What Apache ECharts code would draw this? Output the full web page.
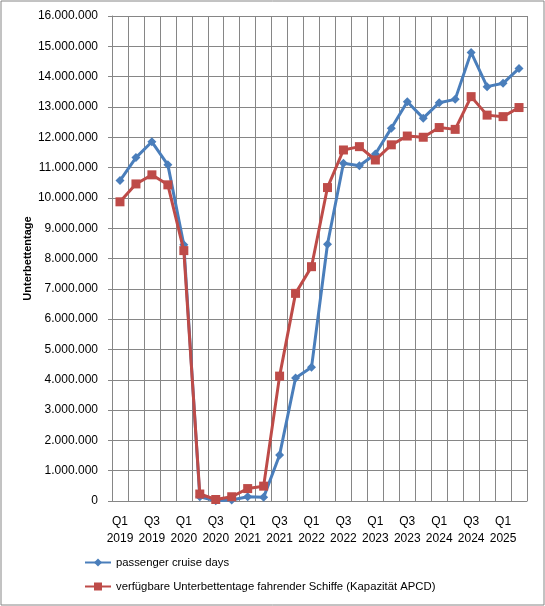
<!DOCTYPE html>
<html>
<head>
<meta charset="utf-8">
<script src="https://cdn.jsdelivr.net/npm/echarts@6/dist/echarts.min.js"></script>
<style>
    html, body { margin: 0; padding: 0; background: #fff; }
    #chart { width: 545px; height: 606px; }
</style>
</head>
<body>
<div id="chart"></div>
<script>
const quarters = [
    'Q1\n2019', 'Q2\n2019', 'Q3\n2019', 'Q4\n2019',
    'Q1\n2020', 'Q2\n2020', 'Q3\n2020', 'Q4\n2020',
    'Q1\n2021', 'Q2\n2021', 'Q3\n2021', 'Q4\n2021',
    'Q1\n2022', 'Q2\n2022', 'Q3\n2022', 'Q4\n2022',
    'Q1\n2023', 'Q2\n2023', 'Q3\n2023', 'Q4\n2023',
    'Q1\n2024', 'Q2\n2024', 'Q3\n2024', 'Q4\n2024',
    'Q1\n2025', 'Q2\n2025'
];

const passengerCruiseDays = [
    10570000, 11330000, 11850000, 11090000,
    8450000, 140000, 10000, 30000,
    140000, 120000, 1520000, 4060000,
    4410000, 8470000, 11140000, 11060000,
    11450000, 12300000, 13170000, 12630000,
    13140000, 13250000, 14800000, 13670000,
    13780000, 14270000
];

const apcdCapacity = [
    9870000, 10460000, 10760000, 10430000,
    8260000, 230000, 50000, 140000,
    410000, 490000, 4120000, 6850000,
    7730000, 10340000, 11580000, 11690000,
    11250000, 11750000, 12040000, 12000000,
    12320000, 12260000, 13340000, 12730000,
    12680000, 12980000
];

const seriesNames = [
    'passenger cruise days',
    'verfügbare Unterbettentage fahrender Schiffe (Kapazität APCD)'
];

const GRID_COLOR = '#868686';
const FONT = 'Liberation Sans';

function formatThousands(value) {
    return String(value).replace(/\B(?=(\d{3})+(?!\d))/g, '.');
}

const chart = echarts.init(document.getElementById('chart'));
chart.setOption({
    animation: false,
    textStyle: { fontFamily: FONT },
    graphic: [{
        type: 'rect',
        shape: { x: 1, y: 1, width: 543, height: 604 },
        style: { fill: 'none', stroke: GRID_COLOR, lineWidth: 1 },
        silent: true
    }],
    grid: {
        left: 112,
        right: 18,
        top: 16,
        bottom: 105,
        containLabel: false
    },
    legend: {
        orient: 'vertical',
        left: 84,
        top: 557,
        padding: 0,
        itemWidth: 26,
        itemHeight: 10,
        itemGap: 13,
        textStyle: { fontFamily: FONT, fontSize: 11.3, color: '#000' },
        data: seriesNames
    },
    xAxis: {
        type: 'category',
        data: quarters,
        boundaryGap: true,
        axisLine: { lineStyle: { color: GRID_COLOR, width: 1 } },
        axisTick: { show: false },
        splitLine: { show: true, interval: 0, lineStyle: { color: GRID_COLOR, width: 1 } },
        axisLabel: {
            interval: 1,
            color: '#000',
            fontSize: 12,
            lineHeight: 17,
            margin: 12
        }
    },
    yAxis: {
        type: 'value',
        min: 0,
        max: 16000000,
        interval: 1000000,
        name: 'Unterbettentage',
        nameLocation: 'middle',
        nameGap: 79,
        nameMoveOverlap: false,
        nameTextStyle: { fontFamily: FONT, fontSize: 11, fontWeight: 'bold', color: '#000' },
        axisLine: { show: true, lineStyle: { color: GRID_COLOR, width: 1 } },
        axisTick: { show: true, length: 4, lineStyle: { color: GRID_COLOR } },
        splitLine: { show: true, lineStyle: { color: GRID_COLOR, width: 1 } },
        axisLabel: {
            color: '#000',
            fontSize: 12,
            margin: 14,
            formatter: formatThousands
        }
    },
    series: [
        {
            name: seriesNames[0],
            type: 'line',
            data: passengerCruiseDays,
            symbol: 'diamond',
            symbolSize: 9,
            lineStyle: { color: '#4a7ebb', width: 3 },
            itemStyle: { color: '#4a7ebb' },
            z: 2
        },
        {
            name: seriesNames[1],
            type: 'line',
            data: apcdCapacity,
            symbol: 'rect',
            symbolSize: 9,
            lineStyle: { color: '#be4b48', width: 3 },
            itemStyle: { color: '#be4b48' },
            z: 3
        }
    ]
});
</script>
</body>
</html>
